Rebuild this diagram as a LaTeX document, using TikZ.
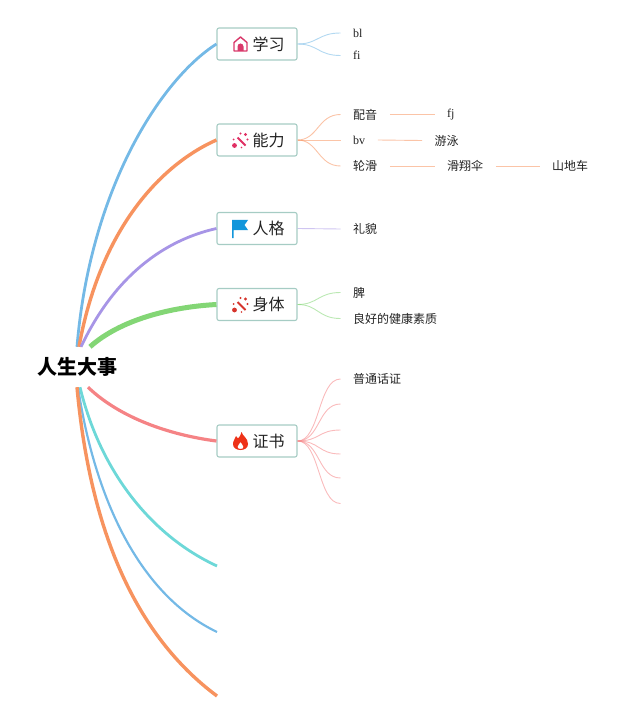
\documentclass[tikz,border=0pt]{standalone}
\usepackage{fontspec}
\setmainfont{Liberation Serif}
\newfontfamily\cjk{Noto Sans CJK SC}
\definecolor{cblue}{HTML}{74B9E6}
\definecolor{corange}{HTML}{F7935F}
\definecolor{cpurple}{HTML}{A795E6}
\definecolor{cgreen}{HTML}{83D675}
\definecolor{cpink}{HTML}{F58385}
\definecolor{cteal}{HTML}{6DD8D8}
\definecolor{cboxline}{HTML}{A6CCC4}
\definecolor{ctext}{HTML}{222222}
\tikzset{
  topic/.style={draw=cboxline,line width=1.1pt,rounded corners=2pt,fill=white,minimum width=80pt,minimum height=32pt,inner sep=0pt,font=\fontsize{16}{18}\selectfont\cjk,text=ctext},
  rootnode/.style={minimum width=84pt,minimum height=40pt,inner sep=0pt,font=\fontsize{20}{22}\selectfont\cjk\bfseries,text=black},
  leaf/.style={anchor=west,inner xsep=12.5pt,inner ysep=0pt,font=\fontsize{12}{14}\selectfont\cjk,text=ctext},
  latinleaf/.style={leaf,font=\fontsize{12}{14}\selectfont},
  thin line/.style={line width=0.9pt,opacity=.55},
}
\newcommand{\iconhouse}[1]{\begin{scope}[shift={#1}]
  \draw[color={rgb,255:red,217;green,57;blue,107},line width=1.4pt,line join=round] (-6.5,7) -- (-6.5,-1.5) -- (0,-7) -- (6.5,-1.5) -- (6.5,7) -- cycle;
  \fill[color={rgb,255:red,217;green,57;blue,107}] (-3,7) -- (-3,2.5) arc[start angle=180,end angle=360,radius=3] -- (3,7) -- cycle;
\end{scope}}
\newcommand{\iconwand}[2]{\begin{scope}[shift={#1}]
  \draw[#2,line width=1.8pt] (-3,-3) -- (5,5);
  \fill[#2] (-6,5) circle (2.4);
  \fill[#2] (0,-7) circle (1.2);
  \fill[#2] (5,-6) circle (1.6);
  \fill[#2] (7,-1) circle (1.1);
  \fill[#2] (-7,-1) circle (1);
  \fill[#2] (1,7) circle (0.9);
\end{scope}}
\newcommand{\iconflag}[1]{\begin{scope}[shift={#1}]
  \fill[color={rgb,255:red,18;green,150;blue,219}] (-8,-9) -- (8,-9) -- (4.5,-4) -- (8,1) -- (-6.5,1) -- (-6.5,9) -- (-8,9) -- cycle;
\end{scope}}
\newcommand{\iconflame}[1]{\begin{scope}[shift={#1}]
  \fill[color={rgb,255:red,238;green,50;blue,24},even odd rule] (1,-9) .. controls (2,-5) and (7.5,-3) .. (7.5,3) .. controls (7.5,7) and (4,9) .. (0,9) .. controls (-4,9) and (-7.5,7) .. (-7.5,3) .. controls (-7.5,-1) and (-5,-2) .. (-4.5,-5) .. controls (-3.5,-3.5) and (-3,-3) .. (-2.5,-2.5) .. controls (-1,-4) and (0.5,-6) .. (1,-9) -- cycle
   (0,1) .. controls (-1,3) and (-3,4) .. (-3,6) .. controls (-3,7.5) and (-1.5,8) .. (0,8) .. controls (1.5,8) and (3,7.5) .. (3,6) .. controls (3,4) and (1,3) .. (0,1) -- cycle;
\end{scope}}
\begin{document}
\begin{tikzpicture}[x=1pt,y=-1pt]
\useasboundingbox (0,0) rectangle (640,719);
\node[rootnode] (root) at (77,367) {人生大事};
\node[topic] (xuexi) at (257,44) {\hspace*{23pt}学习};
\node[topic] (nengli) at (257,140) {\hspace*{23pt}能力};
\node[topic] (renge) at (257,228.5) {\hspace*{23pt}人格};
\node[topic] (shenti) at (257,304.5) {\hspace*{23pt}身体};
\node[topic] (zhengshu) at (257,441) {\hspace*{23pt}证书};
\iconhouse{(240.5,44)}
\iconwand{(240.5,140.5)}{color={rgb,255:red,224;green,48;blue,100}}
\iconflag{(240,229)}
\iconwand{(240.5,305)}{color={rgb,255:red,214;green,52;blue,44}}
\iconflame{(240.5,441)}
\coordinate (e1) at (217,566);
\coordinate (e2) at (217,632);
\coordinate (e3) at (217,696);
% main branches
\draw[cblue,line width=2.8pt] (root.north) .. controls (90,190) and (160,80) .. (xuexi.west);
\draw[corange,line width=3.4pt] ([xshift=2pt]root.north) .. controls (100,230) and (160,165) .. (nengli.west);
\draw[cpurple,line width=2.8pt] ([xshift=4pt]root.north) .. controls (115,275) and (165,240) .. (renge.west);
\draw[cgreen,line width=5pt] ([xshift=13pt]root.north) .. controls (120,320) and (170,307) .. (shenti.west);
\draw[cpink,line width=3.2pt] ([xshift=11pt]root.south) .. controls (120,418) and (170,435) .. (zhengshu.west);
\draw[cteal,line width=2.8pt] ([xshift=3pt]root.south) .. controls (100,470) and (150,535) .. (e1);
\draw[cblue,line width=2.2pt] ([xshift=1pt]root.south) .. controls (95,500) and (140,595) .. (e2);
\draw[corange,line width=3.4pt] (root.south) .. controls (90,530) and (135,635) .. (e3);
% leaves
\node[latinleaf] (bl) at (340.5,33) {bl};
\node[latinleaf] (fi) at (340.5,55.5) {fi};
\node[leaf] (peiyin) at (340.5,114.5) {配音};
\node[latinleaf] (fj) at (434.5,114.5) {fj};
\node[latinleaf] (bv) at (340.5,140) {bv};
\node[leaf] (youyong) at (422,140.5) {游泳};
\node[leaf] (lunhua) at (340.5,166) {轮滑};
\node[leaf] (huaxiang) at (434.5,166) {滑翔伞};
\node[leaf] (shandi) at (539.5,166) {山地车};
\node[leaf] (limao) at (340.5,229) {礼貌};
\node[leaf] (pi) at (340.5,292.5) {脾};
\node[leaf] (lianghao) at (340.5,318.5) {良好的健康素质};
\node[leaf] (putong) at (340.5,379) {普通话证};
\coordinate (z2) at (340.5,404);
\coordinate (z3) at (340.5,430);
\coordinate (z4) at (340.5,454);
\coordinate (z5) at (340.5,478);
\coordinate (z6) at (340.5,503.5);
\begin{scope}[thin line]
\draw[cblue] (xuexi.east) .. controls (318,44) and (318,33) .. (bl.west);
\draw[cblue] (xuexi.east) .. controls (318,44) and (318,55.5) .. (fi.west);
\draw[corange] (nengli.east) .. controls (318,140) and (318,114.5) .. (peiyin.west);
\draw[corange] (nengli.east) -- (bv.west);
\draw[corange] (nengli.east) .. controls (318,140) and (318,166) .. (lunhua.west);
\draw[corange] (peiyin.east) -- (fj.west);
\draw[corange] (bv.east) -- (youyong.west);
\draw[corange] (lunhua.east) -- (huaxiang.west);
\draw[corange] (huaxiang.east) -- (shandi.west);
\draw[cpurple] (renge.east) -- (limao.west);
\draw[cgreen] (shenti.east) .. controls (318,304.5) and (318,292.5) .. (pi.west);
\draw[cgreen] (shenti.east) .. controls (318,304.5) and (318,318.5) .. (lianghao.west);
\draw[cpink] (zhengshu.east) .. controls (320,441) and (318,379) .. (putong.west);
\draw[cpink] (zhengshu.east) .. controls (320,441) and (318,404) .. (z2);
\draw[cpink] (zhengshu.east) .. controls (320,441) and (318,430) .. (z3);
\draw[cpink] (zhengshu.east) .. controls (320,441) and (318,454) .. (z4);
\draw[cpink] (zhengshu.east) .. controls (320,441) and (318,478) .. (z5);
\draw[cpink] (zhengshu.east) .. controls (320,441) and (318,503.5) .. (z6);
\end{scope}
\end{tikzpicture}
\end{document}
